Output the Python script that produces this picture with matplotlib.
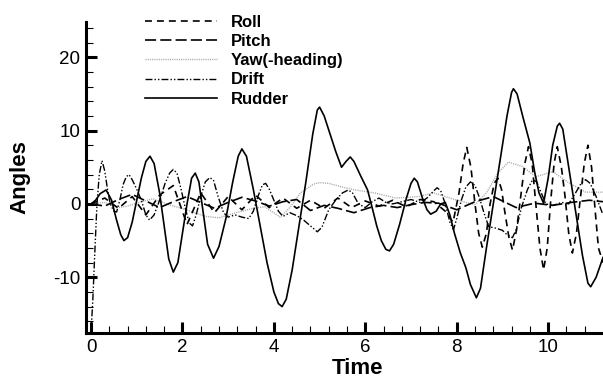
import matplotlib
matplotlib.use('Agg')
import matplotlib.pyplot as plt

plt.rcParams['font.family'] = ['Liberation Sans', 'DejaVu Sans']
plt.rcParams['lines.scale_dashes'] = False
plt.rcParams['axes.unicode_minus'] = False

# values
rudder_t = [0.0, 0.1, 0.2, 0.33, 0.45, 0.55, 0.65, 0.72, 0.8, 0.9, 1.0, 1.1, 1.2, 1.29, 1.38,
            1.5, 1.6, 1.7, 1.8, 1.9, 2.0, 2.1, 2.2, 2.28, 2.36, 2.45, 2.55, 2.68, 2.8, 2.95,
            3.1, 3.22, 3.3, 3.4, 3.55, 3.7, 3.85, 4.0, 4.1, 4.18, 4.27, 4.4, 4.55, 4.7, 4.85,
            4.95, 5.0, 5.1, 5.22, 5.35, 5.48, 5.58, 5.67, 5.75, 5.9, 6.05, 6.15, 6.25, 6.35,
            6.45, 6.53, 6.62, 6.75, 6.9, 7.0, 7.07, 7.14, 7.25, 7.35, 7.43, 7.55, 7.65, 7.75,
            7.85, 7.95, 8.08, 8.2, 8.3, 8.43, 8.52, 8.65, 8.8, 8.95, 9.1, 9.2, 9.24, 9.32,
            9.45, 9.6, 9.7, 9.8, 9.9, 10.0, 10.1, 10.2, 10.25, 10.32, 10.45, 10.6, 10.75,
            10.87, 10.93, 11.05, 11.2]
rudder = [0.0, 0.5, 1.4, 1.9, 0.5, -2.0, -4.2, -5.0, -4.6, -2.5, 0.5, 3.5, 5.8, 6.5, 5.5,
          1.5, -3.0, -7.5, -9.3, -8.0, -4.0, 0.0, 3.5, 4.2, 3.0, -1.0, -5.5, -7.4, -5.8, -2.0,
          3.0, 6.5, 7.5, 6.5, 2.0, -3.0, -8.0, -12.0, -13.6, -14.0, -13.0, -9.0, -3.0, 3.0, 9.5,
          12.8, 13.2, 12.0, 9.7, 7.2, 5.0, 5.8, 6.4, 5.8, 3.8, 1.9, -0.5, -3.0, -5.0,
          -6.2, -6.4, -5.5, -2.8, 0.8, 2.8, 3.5, 3.0, 0.8, -0.8, -1.4, -1.0, 0.0, 0.2,
          -1.5, -4.0, -6.7, -8.7, -11.0, -12.8, -11.5, -6.0, 0.0, 6.0, 12.0, 15.2, 15.7, 15.0,
          11.8, 8.3, 4.5, 1.5, 0.1, 3.5, 8.0, 10.6, 11.0, 10.2, 5.0, -1.0, -7.0,
          -10.8, -11.3, -10.0, -7.3]

drift_t = [0.0, 0.04, 0.08, 0.13, 0.18, 0.24, 0.3, 0.36, 0.42, 0.5, 0.56, 0.63, 0.7, 0.77,
           0.83, 0.9, 1.0, 1.1, 1.2, 1.28, 1.38, 1.5, 1.62, 1.72, 1.8, 1.88, 1.97, 2.07, 2.15,
           2.22, 2.3, 2.4, 2.5, 2.6, 2.68, 2.78, 2.9, 3.0, 3.15, 3.3, 3.45, 3.55, 3.65, 3.75,
           3.82, 3.9, 4.0, 4.1, 4.2, 4.35, 4.5, 4.65, 4.8, 4.95, 5.05, 5.2, 5.35, 5.5, 5.63,
           5.72, 5.85, 6.0, 6.15, 6.3, 6.45, 6.6, 6.8, 7.0, 7.2, 7.35, 7.5, 7.57, 7.65, 7.75,
           7.85, 7.93, 8.0, 8.1, 8.2, 8.3, 8.4, 8.5, 8.6, 8.7, 8.85, 9.0, 9.1, 9.22, 9.3, 9.42,
           9.55, 9.66, 9.75, 9.85, 9.95, 10.1, 10.3, 10.45, 10.6, 10.72, 10.82, 10.92, 11.05, 11.2]
drift = [-17.5, -13.0, -7.0, 0.0, 4.0, 5.9, 4.5, 2.0, 0.0, -1.0, -1.1, 0.5, 2.6, 3.7,
         4.0, 3.3, 2.0, 0.5, -1.5, -2.2, -1.5, 0.5, 2.8, 4.2, 4.7, 4.2, 2.0, -0.8, -2.6,
         -3.0, -1.5, 1.0, 3.0, 3.6, 3.2, 1.0, -1.2, -1.8, -1.5, -1.8, -2.0, -1.0, 1.0, 2.6,
         2.8, 2.0, 0.5, -1.0, -1.7, -1.2, -1.6, -2.2, -3.0, -3.8, -3.2, -0.8, 0.5, 1.5, 1.9,
         1.5, 0.0, -0.5, 0.3, 0.8, 0.2, 0.0, 0.3, 0.6, 0.2, 0.8, 1.8, 2.2, 1.8, 0.0,
         -2.5, -3.5, -2.0, 0.5, 2.3, 3.0, 2.5, 0.8, -1.3, -3.1, -3.3, -3.6, -4.2, -4.6, -3.5, -0.4,
         2.0, 3.3, 3.0, 1.5, 0.0, -0.2, 0.2, 0.0, 1.5, 2.8, 3.3, 2.8, 1.0, -1.5]

yaw_t = [0.0, 0.3, 0.6, 0.8, 1.0, 1.35, 1.7, 2.08, 2.5, 2.8, 3.17, 3.55, 3.8, 4.14, 4.35,
         4.58, 4.87, 5.0, 5.2, 5.5, 5.78, 6.2, 6.66, 7.16, 7.5, 8.0, 8.4, 8.65, 8.9, 9.13,
         9.44, 9.73, 10.1, 10.45, 10.82, 11.2]
yaw = [0.0, 0.2, -0.5, -0.3, 0.1, 0.7, -0.1, -0.8, -1.7, -1.9, -1.2, -0.6, -0.4, -1.8, -0.5,
       1.5, 2.7, 2.9, 2.8, 2.3, 1.9, 1.5, 0.8, 1.0, 1.5, 0.5, -0.1, 1.5, 4.2, 5.7,
       5.1, 3.7, 4.4, 2.9, 1.6, 1.6]

pitch_t = [0.0, 0.3, 0.6, 0.9, 1.2, 1.5, 1.8, 2.1, 2.4, 2.7, 3.0, 3.3, 3.6, 3.9, 4.2, 4.5,
           4.8, 5.1, 5.4, 5.75, 6.1, 6.4, 6.7, 7.0, 7.3, 7.6, 8.0, 8.4, 8.8, 9.3, 9.7, 10.1,
           10.5, 10.9, 11.2]
pitch = [0.0, -0.3, 0.6, 1.3, 0.4, -0.5, 0.3, 1.0, 0.2, -0.6, 0.2, 0.9, 0.4, -0.3, 0.3, 0.6,
         -0.9, -0.2, -0.6, -1.2, -0.5, -0.2, -0.5, -0.1, 0.2, 0.1, -0.8, 0.3, 1.0, -0.5, 0.1, -0.2,
         0.2, 0.5, 0.3]

roll_t = [0.0, 0.3, 0.6, 0.9, 1.2, 1.5, 1.8, 2.1, 2.4, 2.7, 3.0, 3.3, 3.6, 3.9, 4.2, 4.5,
          4.8, 5.1, 5.4, 5.7, 6.0, 6.3, 6.6, 6.9, 7.2, 7.5, 7.75, 7.92, 8.05, 8.14, 8.22, 8.31,
          8.4, 8.48, 8.56, 8.65, 8.73, 8.82, 8.9, 8.98, 9.05, 9.14, 9.22, 9.31, 9.4, 9.49,
          9.57, 9.65, 9.73, 9.82, 9.9, 9.98, 10.05, 10.13, 10.2, 10.29, 10.37, 10.45, 10.53,
          10.62, 10.7, 10.79, 10.87, 10.95, 11.03, 11.1, 11.2]
roll = [0.0, 0.8, -0.6, 1.0, -1.5, 1.2, 2.5, -2.8, 1.5, -1.2, 1.0, -0.8, 1.2, -0.5, 0.8, -0.6,
        0.5, -0.6, 0.8, -0.5, 0.4, -0.3, 0.5, -0.4, 0.6, 0.3, -1.0, -2.5, 1.5, 5.5, 7.7, 5.0,
        0.0, -4.0, -5.9, -4.0, 0.0, 2.8, 3.5, 2.0, -1.0, -4.5, -6.3, -3.5, 1.0, 5.5,
        7.8, 5.5, 0.0, -6.0, -9.0, -6.0, 0.0, 5.5, 7.8, 5.0, 1.0, -4.0, -6.7,
        -4.0, 0.5, 5.5, 8.0, 5.0, -1.0, -6.0, -8.0]

series_names = ['Roll', 'Pitch', 'Yaw(-heading)', 'Drift', 'Rudder']
y_ticks = [-10, 0, 10, 20]
x_ticks = [0, 2, 4, 6, 8, 10]

fig = plt.figure(figsize=(6.03, 3.81), dpi=100)
ax = fig.add_axes([86 / 603, 48 / 381, 517 / 603, 311 / 381])

ax.plot(roll_t, roll, c='black', lw=1.2, dashes=(5.0, 3.6), label=series_names[0], zorder=3)
ax.plot(pitch_t, pitch, c='black', lw=1.2, dashes=(8.0, 3.0), label=series_names[1], zorder=3)
ax.plot(yaw_t, yaw, c='#a8a8a8', lw=1.0, dashes=(0.8, 0.8), label=series_names[2], zorder=2)
ax.plot(drift_t, drift, c='black', lw=1.0, dashes=(5.0, 1.5, 1.0, 1.5, 1.0, 1.5),
        label=series_names[3], zorder=3)
ax.plot(rudder_t, rudder, c='black', lw=1.2, label=series_names[4], zorder=4)

ax.set_xlim(-0.11, 11.2)
ax.set_ylim(-17.6, 24.8)
ax.set_xticks(x_ticks)
ax.set_yticks(y_ticks)
ax.set_xticks([t / 10 for t in range(0, 112, 4)], minor=True)
ax.set_yticks(list(range(-16, 25, 2)), minor=True)

for s in ['top', 'right']:
    ax.spines[s].set_visible(False)
for s in ['left', 'bottom']:
    ax.spines[s].set_linewidth(2.2)

ax.tick_params(which='major', direction='in', length=8, width=2.2, labelsize=13.5, pad=4)
ax.tick_params(which='minor', direction='in', length=5, width=0.8)

ax.set_xlabel('Time', fontsize=16, fontweight='bold')
ax.set_ylabel('Angles', fontsize=16, fontweight='bold')
ax.xaxis.set_label_coords(0.525, -0.08)
ax.yaxis.set_label_coords(-0.108, 0.5)

leg = ax.legend(loc='upper left', bbox_to_anchor=(145 / 603, 1 - 15 / 381),
                bbox_transform=fig.transFigure, frameon=False, handlelength=4.3,
                handletextpad=0.85, labelspacing=0.25, borderpad=0, borderaxespad=0,
                prop={'weight': 'bold', 'size': 12})

fig.savefig('out.png', dpi=100)
